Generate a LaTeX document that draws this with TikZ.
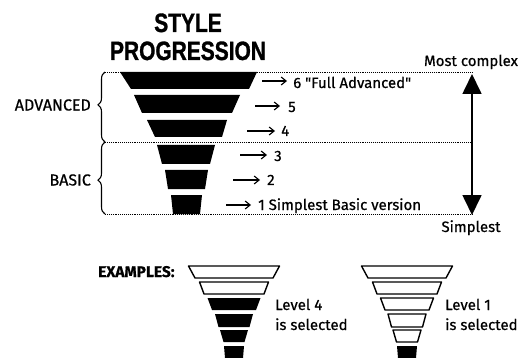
\documentclass[tikz,border=0pt]{standalone}
\usepackage{fontspec}
\usepackage{graphicx}
\setmainfont{Fira Sans}
\newfontfamily\lblfont{Fira Sans}[FakeBold=0.6]
\newfontfamily\exfont{Fira Sans Bold}[FakeBold=0.4]
\newfontfamily\titlefont{Liberation Sans Bold}[FakeBold=1.2]
\usetikzlibrary{arrows.meta,decorations.pathreplacing}
\newcommand{\trap}[6]{\path[#6] ({#1-#4},#2) -- ({#1+#4},#2) -- ({#1+#5},#3) -- ({#1-#5},#3) -- cycle;}
\newcommand{\example}[2]{%
  \trap{#1}{266}{278}{45.5}{39}{#2{6}}
  \trap{#1}{282}{294}{34.5}{30}{#2{5}}
  \trap{#1}{298}{310}{26.5}{22}{#2{4}}
  \trap{#1}{314}{327}{19}{15.5}{#2{3}}
  \trap{#1}{330}{342}{14}{10.5}{#2{2}}
  \trap{#1}{346}{358}{10}{9}{#2{1}}}
\begin{document}
\begin{tikzpicture}[x=1pt,y=-1pt,
  lbl/.style={inner sep=0pt, font=\lblfont\fontsize{15}{18}\selectfont},
  grouplbl/.style={inner sep=0pt, font=\lblfont\fontsize{16}{18}\selectfont},
  boldlbl/.style={inner sep=0pt, font=\exfont\fontsize{15.5}{18}\selectfont},
  titlelbl/.style={inner sep=0pt, font=\titlefont\fontsize{26.5}{30}\selectfont},
  band/.style={fill=black},
  oband/.style={draw=black, line width=1.4pt, fill=white, line join=round},
  dotline/.style={densely dotted, line width=0.9pt},
  pointer/.style={line width=1.1pt, -{Straight Barb[length=5pt,width=8pt]}},
  bigarrow/.style={line width=1.7pt, {Triangle[length=20pt,width=19pt]}-{Triangle[length=20pt,width=19pt]}},
  bracestyle/.style={decorate, decoration={brace, amplitude=7pt, aspect=#1}, line width=1.1pt}
]
\useasboundingbox (0,0) rectangle (524,358);

% title
\node[titlelbl, anchor=base] (t1) at (188,32) {\scalebox{0.79}[1]{STYLE}};
\node[titlelbl, anchor=base] (t2) at (188,60) {\scalebox{0.79}[1]{PROGRESSION}};

% dotted guide lines
\coordinate (d1a) at (105,72);  \coordinate (d1b) at (472,72);
\coordinate (d2a) at (105,142); \coordinate (d2b) at (472,142);
\coordinate (d3a) at (105,214); \coordinate (d3b) at (472,214);
\draw[dotline] (d1a) -- (d1b);
\draw[dotline] (d2a) -- (d2b);
\draw[dotline] (d3a) -- (d3b);

% main funnel
\path[band] (120,72) -- (257,72) -- (249,89) -- (131,89) -- cycle;
\path[band] (134,95) -- (240,95) -- (232,113) -- (142,113) -- cycle;
\path[band] (147,120) -- (227,120) -- (222,137) -- (155,137) -- cycle;
\path[band] (157,145) -- (215,145) -- (210,164) -- (162,164) -- cycle;
\path[band] (165,170) -- (208,170) -- (205,189) -- (168,189) -- cycle;
\path[band] (171,195) -- (202,195) -- (200,214) -- (173,214) -- cycle;

% braces and group labels
\draw[bracestyle=0.53] (d2a) -- (d1a);
\draw[bracestyle=0.47] (d3a) -- (d2a);
\node[grouplbl, anchor=east] (adv) at (91,105) {ADVANCED};
\node[grouplbl, anchor=east] (bas) at (91,180) {BASIC};

% level pointers
\coordinate (s6) at (262,81);  \coordinate (e6) at (287,81);
\coordinate (s5) at (255,106); \coordinate (e5) at (280,106);
\coordinate (s4) at (247,131); \coordinate (e4) at (275,131);
\coordinate (s3) at (240,155); \coordinate (e3) at (267,155);
\coordinate (s2) at (233,180); \coordinate (e2) at (260,180);
\coordinate (s1) at (226,205); \coordinate (e1) at (251,205);
\draw[pointer] (s6) -- (e6);
\draw[pointer] (s5) -- (e5);
\draw[pointer] (s4) -- (e4);
\draw[pointer] (s3) -- (e3);
\draw[pointer] (s2) -- (e2);
\draw[pointer] (s1) -- (e1);
\node[lbl, anchor=base west] (l6) at (293,88) {6 "Full Advanced"};
\node[lbl, anchor=base west] (l5) at (288,112) {5};
\node[lbl, anchor=base west] (l4) at (281,136) {4};
\node[lbl, anchor=base west] (l3) at (274,161) {3};
\node[lbl, anchor=base west] (l2) at (267,185) {2};
\node[lbl, anchor=base west] (l1) at (258,210) {1 Simplest Basic version};

% complexity axis
\coordinate (axtop) at (472,74);
\coordinate (axbot) at (472,215);
\draw[bigarrow] (axtop) -- (axbot);
\node[lbl, anchor=base] (mc) at (471,66) {Most complex};
\node[lbl, anchor=base] (sp) at (471,232) {Simplest};

% examples
\node[boldlbl, anchor=base west] (ex) at (98,277) {EXAMPLES:};
\newcommand{\selfour}[1]{\ifnum#1>4 oband\else band\fi}
\newcommand{\selone}[1]{\ifnum#1>1 oband\else band\fi}
\example{234}{\selfour}
\example{407}{\selone}
\node[lbl, anchor=base west] (lv4) at (275,310) {Level 4};
\node[lbl, anchor=base west] (is4) at (275,330) {is selected};
\node[lbl, anchor=base west] (lv1) at (445,310) {Level 1};
\node[lbl, anchor=base west] (is1) at (445,330) {is selected};
\end{tikzpicture}
\end{document}
